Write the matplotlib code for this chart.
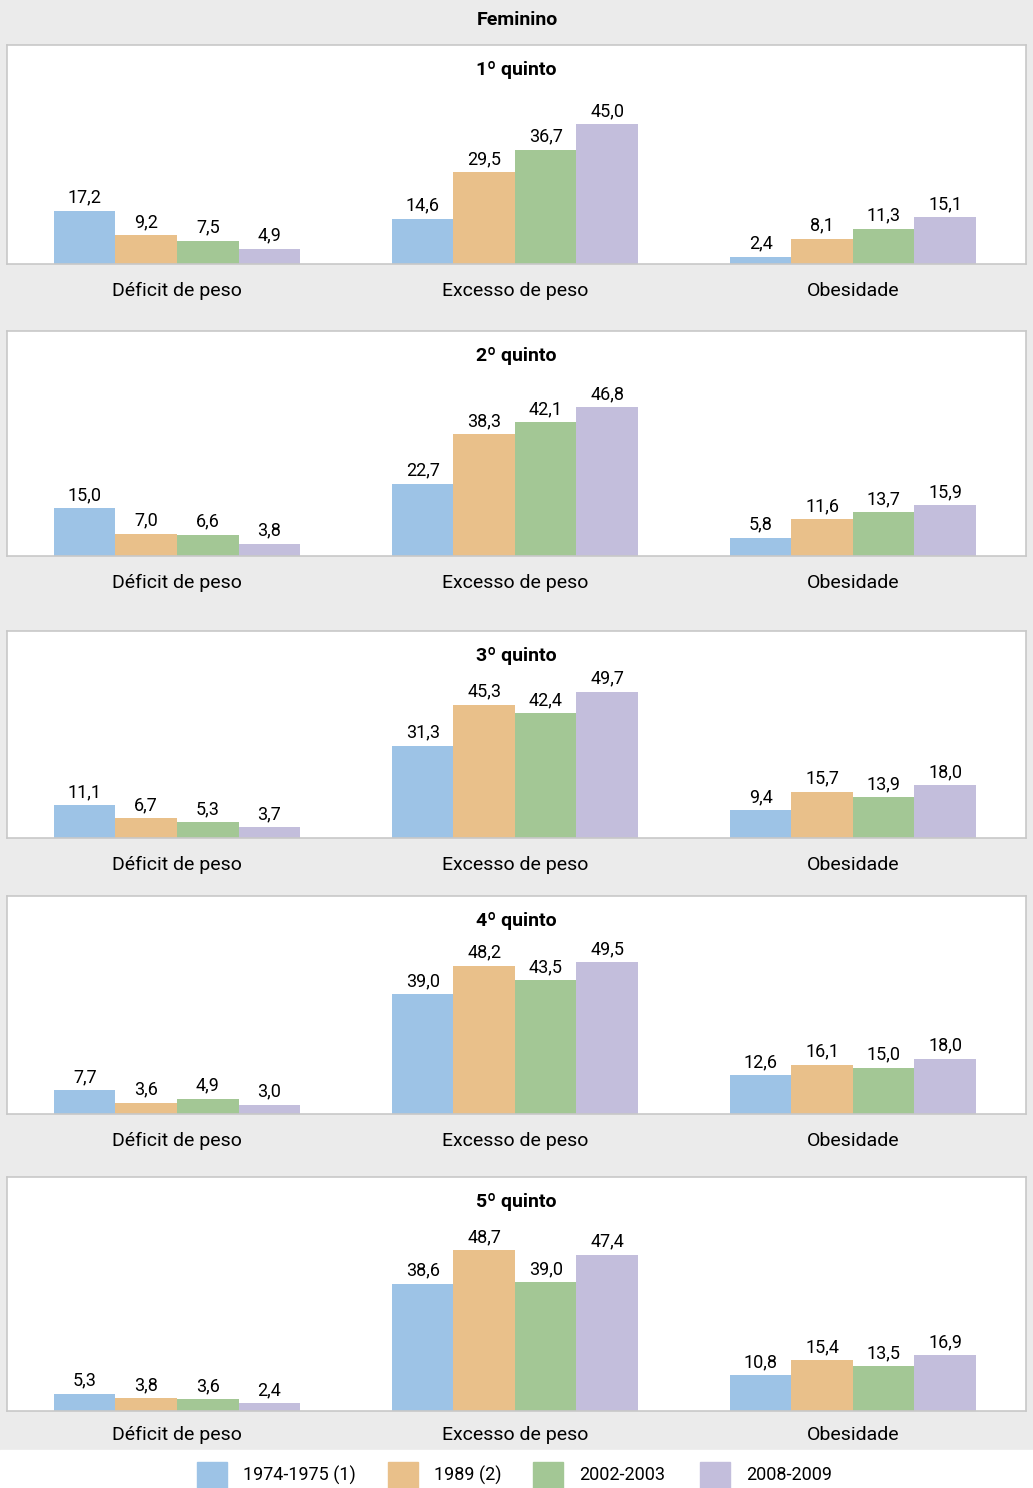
import matplotlib
matplotlib.use("Agg")
import matplotlib.pyplot as plt
import numpy as np

plt.rcParams['font.family'] = ['Roboto', 'DejaVu Sans']

categories = ["Déficit de peso", "Excesso de peso", "Obesidade"]
periods = ["1974-1975 (1)", "1989 (2)", "2002-2003", "2008-2009"]
colors = ["#9dc3e6", "#e9c08a", "#a3c795", "#c3bedc"]
quintiles = ["1º quinto", "2º quinto", "3º quinto", "4º quinto", "5º quinto"]

# values per category (rows) and period (columns)
q1 = [[17.2, 9.2, 7.5, 4.9], [14.6, 29.5, 36.7, 45.0], [2.4, 8.1, 11.3, 15.1]]
q2 = [[15.0, 7.0, 6.6, 3.8], [22.7, 38.3, 42.1, 46.8], [5.8, 11.6, 13.7, 15.9]]
q3 = [[11.1, 6.7, 5.3, 3.7], [31.3, 45.3, 42.4, 49.7], [9.4, 15.7, 13.9, 18.0]]
q4 = [[7.7, 3.6, 4.9, 3.0], [39.0, 48.2, 43.5, 49.5], [12.6, 16.1, 15.0, 18.0]]
q5 = [[5.3, 3.8, 3.6, 2.4], [38.6, 48.7, 39.0, 47.4], [10.8, 15.4, 13.5, 16.9]]
quint_data = [q1, q2, q3, q4, q5]

W, H = 1033, 1488
fig = plt.figure(figsize=(W / 100, H / 100), dpi=100)
fig.patch.set_facecolor("#ebebeb")

# white strip behind the legend
fig.patches.append(plt.Rectangle((0, 0), 1, 38 / H, transform=fig.transFigure,
                                 color="white", zorder=0))

# panel boxes in pixels: (top, bottom)
panels = [(45, 264), (331, 556), (631, 838), (896, 1114), (1177, 1411)]
scales = [3.11, 3.18, 2.94, 3.07, 3.3]
pads = [13, 13, 13, 13, 11]
left, right = 7, 1026

fig.text(517 / W, 1 - 20 / H, "Feminino", ha="center", va="center",
         fontsize=14, fontweight="bold")

bw = 0.182
x = np.arange(len(categories))
for (top, bot), sc, pad, title, data in zip(panels, scales, pads, quintiles, quint_data):
    ax = fig.add_axes([left / W, 1 - bot / H, (right - left) / W, (bot - top) / H])
    ax.set_facecolor("white")
    arr = np.array(data)
    for j in range(len(periods)):
        xs = x + (j - 1.5) * bw
        ax.bar(xs, arr[:, j], width=bw, color=colors[j], linewidth=0)
        for xx, v in zip(xs, arr[:, j]):
            ax.annotate(f"{v:.1f}".replace(".", ","), (xx, v), xytext=(0, 3),
                        textcoords="offset points", ha="center", va="bottom",
                        fontsize=13)
    ax.set_xlim(-0.503, 2.512)
    ax.set_ylim(0, (bot - top) / sc)
    ax.set_yticks([])
    ax.set_xticks(x)
    ax.set_xticklabels(categories, fontsize=14)
    ax.tick_params(axis="x", length=0, pad=pad)
    for s in ax.spines.values():
        s.set_color("#c8c8c8")
        s.set_linewidth(1.2)
    ax.text(0.5, 1 - 25 / (bot - top), title, transform=ax.transAxes,
            ha="center", va="center", fontsize=14, fontweight="bold")

# legend
leg_y = 1475
patch_x = [197, 388, 533, 700]
for px, lab, c in zip(patch_x, periods, colors):
    fig.patches.append(plt.Rectangle((px / W, 1 - (leg_y + 13) / H), 30 / W, 26 / H,
                                     transform=fig.transFigure, color=c))
    fig.text((px + 46) / W, 1 - leg_y / H, lab, ha="left", va="center", fontsize=13)

fig.savefig("out.png", dpi=100, facecolor=fig.get_facecolor())
